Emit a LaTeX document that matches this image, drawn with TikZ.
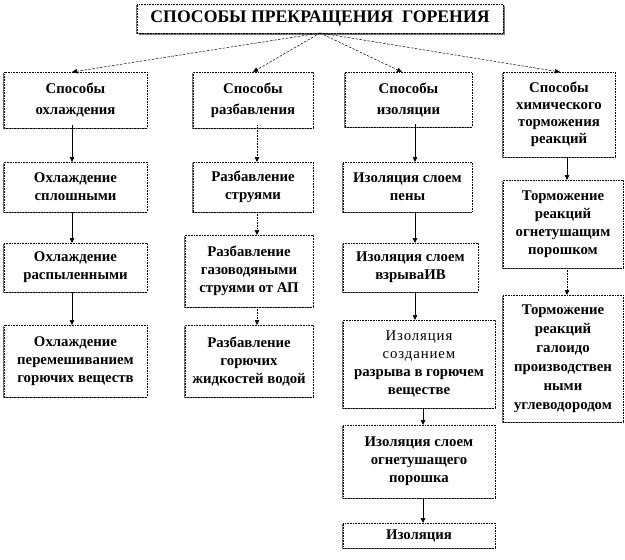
\documentclass[tikz,border=0pt]{standalone}
\usepackage{fontspec}
\setmainfont{Liberation Serif}
\newfontfamily\spacedfont[LetterSpace=6]{Liberation Serif}
\newcommand\regline[1]{{\spacedfont\mdseries #1}}
\usetikzlibrary{shadows,arrows.meta}
\begin{document}
\begin{tikzpicture}[x=1pt,y=-1pt,
  box/.style={draw=black, densely dotted, line width=0.6pt, fill=white,
    inner sep=0pt, outer sep=0pt, align=center,
    drop shadow={shadow xshift=-1.3pt, shadow yshift=-1.3pt, fill=black!55, opacity=1},
    font=\fontsize{14.8}{18}\selectfont\bfseries},
  tbox/.style={box, drop shadow={shadow xshift=1.5pt, shadow yshift=-1.5pt, fill=black!55, opacity=1},
    font=\fontsize{17.7}{20}\selectfont\bfseries},
  wide/.style={font=\fontsize{14.8}{21}\selectfont\bfseries},
  arr/.style={-{Triangle[length=5pt,width=4.5pt]}, line width=0.6pt},
  darr/.style={arr, dashed, dash pattern=on 2.5pt off 1.5pt, line width=0.5pt},
  oarr/.style={arr, densely dotted}
]
\useasboundingbox (0,0) rectangle (625,560);

\node[tbox, minimum width=366pt, minimum height=29pt] (T) at (320,18.5) {СПОСОБЫ ПРЕКРАЩЕНИЯ\ \ ГОРЕНИЯ};

\node[box, wide, minimum width=143pt, minimum height=56pt] (A1) at (75.5,100) {Способы\\охлаждения};
\node[box, minimum width=143pt, minimum height=50pt] (A2) at (75.5,187) {Охлаждение\\сплошными};
\node[box, minimum width=143pt, minimum height=49pt] (A3) at (75.5,267.5) {Охлаждение\\распыленными};
\node[box, minimum width=143pt, minimum height=72pt] (A4) at (75.5,361) {Охлаждение\\перемешиванием\\горючих веществ};

\node[box, wide, minimum width=120pt, minimum height=56pt] (B1) at (253,100) {Способы\\разбавления};
\node[box, minimum width=120pt, minimum height=50pt] (B2) at (253,187) {Разбавление\\струями};
\node[box, minimum width=128pt, minimum height=72pt] (B3) at (249,271) {Разбавление\\газоводяными\\струями от АП};
\node[box, minimum width=128pt, minimum height=72pt] (B4) at (249,361) {Разбавление\\горючих\\жидкостей водой};

\node[box, wide, minimum width=127pt, minimum height=55pt] (C1) at (408.5,99.5) {Способы\\изоляции};
\node[box, minimum width=129pt, minimum height=50pt] (C2) at (407.5,187) {Изоляция слоем\\пены};
\node[box, minimum width=135pt, minimum height=49pt] (C3) at (410.5,267.5) {Изоляция слоем\\взрываИВ};
\node[box, minimum width=152pt, minimum height=88pt] (C4) at (419,364) {\regline{Изоляция}\\\regline{созданием}\\разрыва в горючем\\веществе};
\node[box, minimum width=152pt, minimum height=73pt] (C5) at (419,461.5) {Изоляция слоем\\огнетушащего\\порошка};
\node[box, minimum width=152pt, minimum height=25pt] (C6) at (419,535.5) {Изоляция};

\node[box, font=\fontsize{14.8}{17}\selectfont\bfseries, minimum width=112pt, minimum height=85pt] (D1) at (559,114.5) {Способы\\химического\\торможения\\реакций};
\node[box, minimum width=120pt, minimum height=88pt] (D2) at (563,224) {Торможение\\реакций\\огнетушащим\\порошком};
\node[box, font=\fontsize{14.8}{19}\selectfont\bfseries, minimum width=120pt, minimum height=127pt] (D3) at (563,358.5) {Торможение\\реакций\\галоидо\\производствен\\ными\\углеводородом};

\coordinate (xa) at (72,0);
\coordinate (xb1) at (253,0);
\coordinate (xb) at (257,0);
\coordinate (xc1) at (402,0);
\coordinate (xc) at (415,0);
\coordinate (xcc) at (423,0);
\coordinate (xd1) at (560,0);
\coordinate (xd) at (567,0);

\draw[darr] (T.south) -- (A1.north -| xa);
\draw[darr] (T.south) -- (B1.north -| xb1);
\draw[darr] (T.south) -- (C1.north -| xc1);
\draw[darr] (T.south) -- (D1.north -| xd1);

\draw[arr] ([yshift=3pt]A1.south -| xa) -- (A2.north -| xa);
\draw[arr] (A2.south -| xa) -- (A3.north -| xa);
\draw[arr] (A3.south -| xa) -- (A4.north -| xa);

\draw[oarr] ([yshift=3pt]B1.south -| xb) -- (B2.north -| xb);
\draw[oarr] (B2.south -| xb) -- (B3.north -| xb);
\draw[oarr] (B3.south -| xb) -- (B4.north -| xb);

\draw[arr] ([yshift=3pt]C1.south -| xc) -- (C2.north -| xc);
\draw[arr] (C2.south -| xc) -- (C3.north -| xc);
\draw[arr] (C3.south -| xc) -- (C4.north -| xc);
\draw[arr] (C4.south -| xcc) -- (C5.north -| xcc);
\draw[arr] (C5.south -| xcc) -- (C6.north -| xcc);

\draw[arr] (D1.south -| xd) -- (D2.north -| xd);
\draw[oarr] (D2.south -| xd) -- (D3.north -| xd);
\end{tikzpicture}
\end{document}
